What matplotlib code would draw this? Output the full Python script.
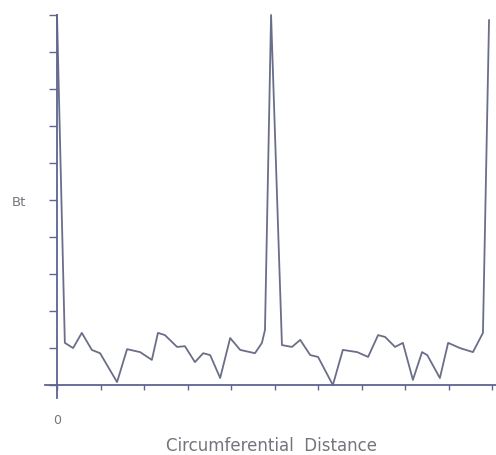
import matplotlib.pyplot as plt

# circumferential position (tick units) and Bt (tick units)
dist = [0.0, 0.18, 0.37, 0.57, 0.80, 0.99, 1.38, 1.61, 1.91, 2.18, 2.32, 2.48,
        2.76, 2.94, 3.17, 3.36, 3.52, 3.75, 3.98, 4.21, 4.55, 4.71, 4.78, 4.92,
        5.17, 5.40, 5.59, 5.82, 6.00, 6.34, 6.57, 6.90, 7.15, 7.38, 7.54, 7.77,
        7.95, 8.18, 8.39, 8.51, 8.80, 8.99, 9.26, 9.56, 9.79, 9.93]
bt = [10.0, 1.14, 1.00, 1.41, 0.95, 0.86, 0.08, 0.97, 0.89, 0.68, 1.41, 1.35,
      1.03, 1.05, 0.62, 0.86, 0.81, 0.19, 1.27, 0.95, 0.86, 1.14, 1.49, 10.0,
      1.08, 1.03, 1.22, 0.81, 0.76, 0.00, 0.95, 0.89, 0.76, 1.35, 1.30, 1.03,
      1.14, 0.14, 0.89, 0.81, 0.19, 1.14, 1.00, 0.89, 1.41, 9.86]
xticks = list(range(11))
xtick_labels = ['0'] + [''] * 10
yticks = list(range(11))

axis_col = '#5d6590'
line_col = '#6a6e88'
text_col = '#74747c'

fig = plt.figure(figsize=(4.96, 4.55), dpi=100)
ax = fig.add_axes([45 / 496, 57 / 455, 451 / 496, 383 / 455])

ax.plot(dist, bt, color=line_col, lw=1.3, clip_on=False)

ax.set_xlim(-0.276, 10.09)
ax.set_ylim(-0.35, 10.0)

for s in ['top', 'right']:
    ax.spines[s].set_visible(False)
ax.spines['left'].set_position(('data', 0))
ax.spines['bottom'].set_position(('data', 0))
for s in ['left', 'bottom']:
    ax.spines[s].set_color(axis_col)
    ax.spines[s].set_linewidth(1.3)

ax.set_yticks(yticks)
ax.set_yticklabels([])
ax.tick_params(axis='y', direction='out', length=6, width=1.0, color=axis_col)
ax.set_xticks(xticks)
ax.set_xticklabels(xtick_labels)
ax.tick_params(axis='x', direction='out', length=3.5, width=1.0, color=axis_col,
               pad=17, labelsize=9, labelcolor=text_col)

fig.text(19 / 496, 1 - 202 / 455, 'Bt', ha='center', va='center',
         fontsize=9.5, color=text_col)
fig.text(272 / 496, 1 - 446 / 455, 'Circumferential  Distance', ha='center',
         va='center', fontsize=12, color=text_col)

fig.savefig('out.png', dpi=100)
